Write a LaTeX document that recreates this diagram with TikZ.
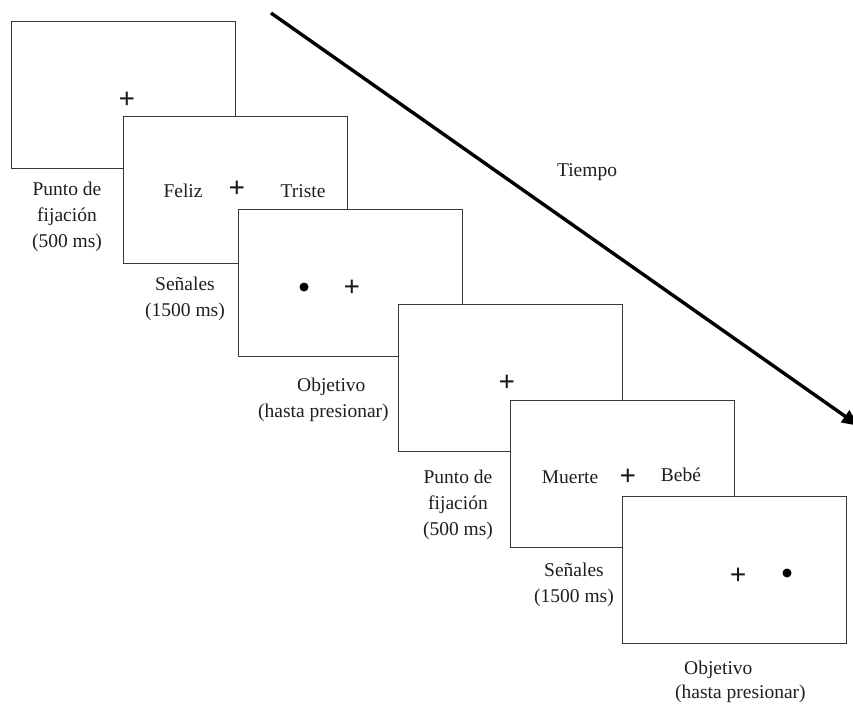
\documentclass[tikz,border=0pt]{standalone}
\usepackage{fontspec}
\setmainfont{Liberation Serif}
\usetikzlibrary{arrows.meta}
\tikzset{
  screen/.style={draw=black!78, line width=1.3pt, fill=white, minimum width=224pt, minimum height=147pt, inner sep=0pt, anchor=north west},
  txt/.style={font=\fontsize{19.5}{26}\selectfont, text=black!88, inner sep=0pt},
  lbl/.style={font=\fontsize{19.5}{26}\selectfont, text=black!88, inner sep=0pt, align=center, anchor=north},
  fix/.style={font=\fontsize{29}{29}\selectfont\bfseries, text=black!90, inner sep=0pt},
  dotmark/.style={circle, fill=black, minimum size=9pt, inner sep=0pt},
  timearrow/.style={line width=3.4pt, -{Triangle[length=17pt,width=14pt]}}
}
\begin{document}
\begin{tikzpicture}[x=1pt,y=-1pt]
\useasboundingbox (0,0) rectangle (853,705);
\clip (0,0) rectangle (853,705);
\fill[white] (0,0) rectangle (853,705);
% arrow
\coordinate (a0) at (271,13);
\coordinate (a1) at (859,426);
\draw[timearrow] (a0) -- (a1);
\node[txt] (tiempo) at (587,172) {Tiempo};
% screen 1
\node[screen] (s1) at (11,21) {};
\node[fix] (p1) at (127,100) {+};
% screen 2
\node[screen] (s2) at (123,116) {};
\node[txt] (w1) at (183,191) {Feliz};
\node[fix] (p2) at (237,189) {+};
\node[txt] (w2) at (303,191) {Triste};
% screen 3
\node[screen] (s3) at (238,209) {};
\node[dotmark] (d1) at (304,287) {};
\node[fix] (p3) at (352,288) {+};
% screen 4
\node[screen] (s4) at (398,304) {};
\node[fix] (p4) at (507,383) {+};
% screen 5
\node[screen] (s5) at (510,400) {};
\node[txt] (w3) at (570,477) {Muerte};
\node[fix] (p5) at (628,477) {+};
\node[txt] (w4) at (681,475) {Bebé};
% screen 6
\node[screen] (s6) at (622,496) {};
\node[fix] (p6) at (738,576) {+};
\node[dotmark] (d2) at (787,573) {};
% labels
\node[lbl] (l1) at (67,182) {Punto de\\fijación\\(500 ms)};
\node[lbl] (l2) at (185,277) {Señales\\(1500 ms)};
\node[lbl, align=left, anchor=north west] (l3) at (258,378) {\hspace*{39pt}Objetivo\\(hasta presionar)};
\node[lbl] (l4) at (458,470) {Punto de\\fijación\\(500 ms)};
\node[lbl] (l5) at (574,563) {Señales\\(1500 ms)};
\node[lbl, align=left, anchor=north west, font=\fontsize{19.5}{24}\selectfont] (l6) at (675,661) {\hspace*{9pt}Objetivo\\(hasta presionar)};
\end{tikzpicture}
\end{document}
